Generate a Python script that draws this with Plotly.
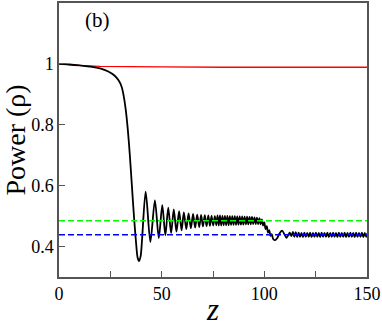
import plotly.graph_objects as go

# red curve (upper power)
z_red = [0, 5, 10, 20, 30, 50, 80, 150]
p_red = [1.0, 0.997, 0.995, 0.992, 0.991, 0.990, 0.989, 0.989]

# black curve, read piecewise off the picture
z_drop = [0, 5, 10, 15, 20, 24, 27, 29, 30.5, 31.5, 32.5, 33.5, 34.5, 35.5, 36.5, 37.5, 38.3, 39.0, 39.8]
p_drop = [1.0, 0.998, 0.995, 0.991, 0.985, 0.975, 0.962, 0.946, 0.925, 0.895, 0.85, 0.785, 0.70, 0.60, 0.50, 0.415, 0.363, 0.352, 0.37]

z_ring = [42.2, 44.5, 46.7, 48.6, 50.3, 51.8, 53.2, 54.6, 55.9, 57.2, 58.5, 59.7, 60.8, 62.0,
          63.1, 64.2, 65.3, 66.3, 67.3, 68.3, 69.2, 70.1, 71.0, 71.9, 72.7, 73.5, 74.3, 75.1,
          75.9, 76.6]
p_ring = [0.58, 0.415, 0.552, 0.428, 0.536, 0.437, 0.528, 0.444, 0.522, 0.449, 0.516, 0.453, 0.512, 0.457,
          0.509, 0.460, 0.507, 0.462, 0.505, 0.464, 0.504, 0.466, 0.503, 0.467, 0.502, 0.468, 0.501, 0.469,
          0.500, 0.470]

z_band = [77.2, 77.8, 78.4, 79.0, 79.6, 80.2, 80.8, 81.4, 82.0, 82.6, 83.2, 83.8, 84.4, 85.0, 85.6, 86.2, 86.8,
          87.4, 88.0, 88.6, 89.2, 89.8, 90.4, 91.0, 91.6, 92.2, 92.8, 93.4, 94.0, 94.6, 95.2, 95.8, 96.4, 97.0]
p_band = [0.502, 0.469, 0.502, 0.469, 0.501, 0.470, 0.501, 0.470, 0.501, 0.470, 0.500, 0.471, 0.500, 0.471,
          0.500, 0.471, 0.499, 0.472, 0.499, 0.472, 0.499, 0.472, 0.498, 0.473, 0.498, 0.473, 0.497, 0.473,
          0.497, 0.474, 0.496, 0.474, 0.495, 0.474]

z_dip = [97.6, 98.2, 98.8, 99.4, 100.0, 100.6, 101.2, 101.8, 102.4, 103.0, 103.6, 104.3, 105.3, 106.3,
         107.3, 108.6, 109.8, 110.7, 111.6, 112.4, 113.2, 113.9, 114.6]
p_dip = [0.493, 0.473, 0.489, 0.469, 0.479, 0.457, 0.467, 0.446, 0.454, 0.435, 0.441, 0.425, 0.421, 0.428,
         0.442, 0.452, 0.440, 0.429, 0.437, 0.446, 0.434, 0.448, 0.432]

z_tail = [115.3, 116.0, 116.7, 117.4, 118.1, 118.8, 119.5, 120.2, 120.9, 121.6, 122.3, 123.0, 123.7, 124.4,
          125.1, 125.8, 126.5, 127.2, 127.9, 128.6, 129.3, 130.0, 130.7, 131.4, 132.1, 132.8, 133.5, 134.2,
          134.9, 135.6, 136.3, 137.0, 137.7, 138.4, 139.1, 139.8, 140.5, 141.2, 141.9, 142.6, 143.3, 144.0,
          144.7, 145.4, 146.1, 146.8, 147.5, 148.2, 148.9, 149.6, 150.0]
p_tail = [0.447, 0.431, 0.446, 0.432, 0.445, 0.431, 0.446, 0.432, 0.445, 0.432, 0.446, 0.431, 0.445, 0.432,
          0.446, 0.432, 0.445, 0.431, 0.446, 0.432, 0.445, 0.432, 0.446, 0.431, 0.445, 0.432, 0.446, 0.432,
          0.445, 0.431, 0.446, 0.432, 0.445, 0.432, 0.446, 0.431, 0.445, 0.432, 0.446, 0.432, 0.445, 0.431,
          0.446, 0.432, 0.445, 0.432, 0.446, 0.431, 0.445, 0.432, 0.443]

z_black = z_drop + z_ring + z_band + z_dip + z_tail
p_black = p_drop + p_ring + p_band + p_dip + p_tail

# reference levels
z_ref = [0, 150]
p_green = [0.485, 0.485]
p_blue = [0.439, 0.439]

x_ticks = [0, 25, 50, 75, 100, 125, 150]
x_labels = ["0", "", "50", "", "100", "", "150"]
y_ticks = [0.4, 0.6, 0.8, 1.0]
y_labels = ["0.4", "0.6", "0.8", "1"]

serif = "Liberation Serif"

fig = go.Figure()
fig.add_trace(go.Scatter(x=z_red, y=p_red, mode="lines", line=dict(color="#ff0000", width=1.3)))
fig.add_trace(go.Scatter(x=z_black, y=p_black, mode="lines",
                         line=dict(color="black", width=1.8, shape="spline", smoothing=0.8)))
fig.add_trace(go.Scatter(x=z_ref, y=p_green, mode="lines",
                         line=dict(color="#00ff00", width=1.6, dash="6px,3px")))
fig.add_trace(go.Scatter(x=z_ref, y=p_blue, mode="lines",
                         line=dict(color="#0000ff", width=1.6, dash="6px,3px")))

axis_common = dict(showline=True, linecolor="#555555", linewidth=1.5, mirror=True,
                   ticks="inside", ticklen=6, tickcolor="#555555", tickwidth=1,
                   showgrid=False, zeroline=False,
                   tickfont=dict(family=serif, size=18, color="black"))

fig.update_xaxes(range=[0, 150], tickvals=x_ticks, ticktext=x_labels,
                 title=dict(text="<i>z</i>", font=dict(family=serif, size=31, color="black"), standoff=0),
                 **axis_common)
fig.update_yaxes(range=[0.3, 1.2], tickvals=y_ticks, ticktext=y_labels,
                 title=dict(text="Power (ρ)", font=dict(family=serif, size=28, color="black"), standoff=6),
                 **axis_common)

fig.add_annotation(text="(b)", x=0.125, y=0.99, xref="paper", yref="paper",
                   xanchor="center", yanchor="top", showarrow=False,
                   font=dict(family=serif, size=21, color="black"))

fig.update_layout(width=382, height=327, showlegend=False,
                  margin=dict(l=59, r=14, t=1, b=45),
                  paper_bgcolor="white", plot_bgcolor="white")

fig.write_html("out.html", config={"displayModeBar": False},
               post_script="document.body.style.margin='0';")
